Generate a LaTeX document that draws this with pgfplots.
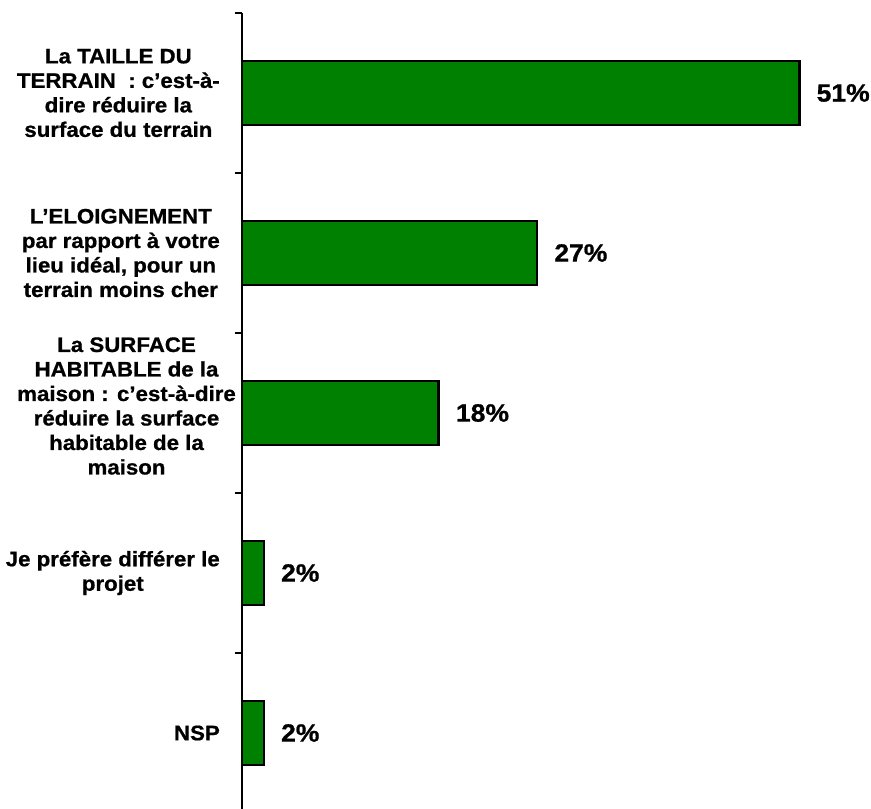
\documentclass[border=0pt]{standalone}
\usepackage{fontspec}
\setmainfont{Liberation Sans}
\newfontfamily\lblfont{Liberation Sans}[UprightFont={* Bold}, FakeStretch=1.06, FakeBold=0.8]
\usepackage{pgfplots}
\pgfplotsset{compat=1.18}
\definecolor{bargreen}{RGB}{0,128,0}

\begin{document}
\begin{tikzpicture}
\begin{axis}[
  at={(242pt,0pt)}, anchor=south west,
  scale only axis,
  width=623pt, height=796pt,
  xbar, bar width=64pt,
  xmin=0, xmax=57,
  ymin=-0.5, ymax=4.475,
  y dir=reverse,
  axis x line=none,
  axis y line*=left,
  axis line style={line width=2.5pt, black},
  ytick={0,1,3,4},
  yticklabels={
    {La TAILLE DU\\TERRAIN~ : c’est-à-\\dire réduire la\\surface du terrain},
    {L’ELOIGNEMENT\\par rapport à votre\\lieu idéal, pour un\\terrain moins cher},
    {Je préfère différer le\\projet},
    {NSP}},
  extra y ticks={2},
  extra y tick labels={{La SURFACE\\HABITABLE de la\\maison : c’est-à-dire\\réduire la surface\\habitable de la\\maison}},
  extra y tick style={major tick length=0pt, yticklabel style={xshift=16pt, yshift=7pt}},
  major tick length=0pt,
  minor ytick={-0.5,0.5,1.5,2.5,3.5},
  minor tick length=7pt,
  tick align=outside,
  minor tick style={line width=2.5pt, black},
  yticklabel style={font=\lblfont\fontsize{21}{24.5}\selectfont, align=center,
    anchor=east, inner sep=0pt, xshift=-22pt},
  /pgf/number format/assume math mode=true,
  point meta=x,
  nodes near coords={\pgfmathprintnumber{\pgfplotspointmeta}\%},
  nodes near coords style={font=\lblfont\fontsize{25}{30}\selectfont,
    anchor=west, inner sep=0pt, xshift=16pt},
]
  % parts de réponses
  \addplot[draw=black, line width=2.5pt, fill=bargreen]
    coordinates {(51,0) (27,1) (18,2) (2,3) (2,4)};
\end{axis}
\pgfresetboundingbox
\path[use as bounding box] (0,0) rectangle (871pt,809pt);
\end{tikzpicture}
\end{document}
